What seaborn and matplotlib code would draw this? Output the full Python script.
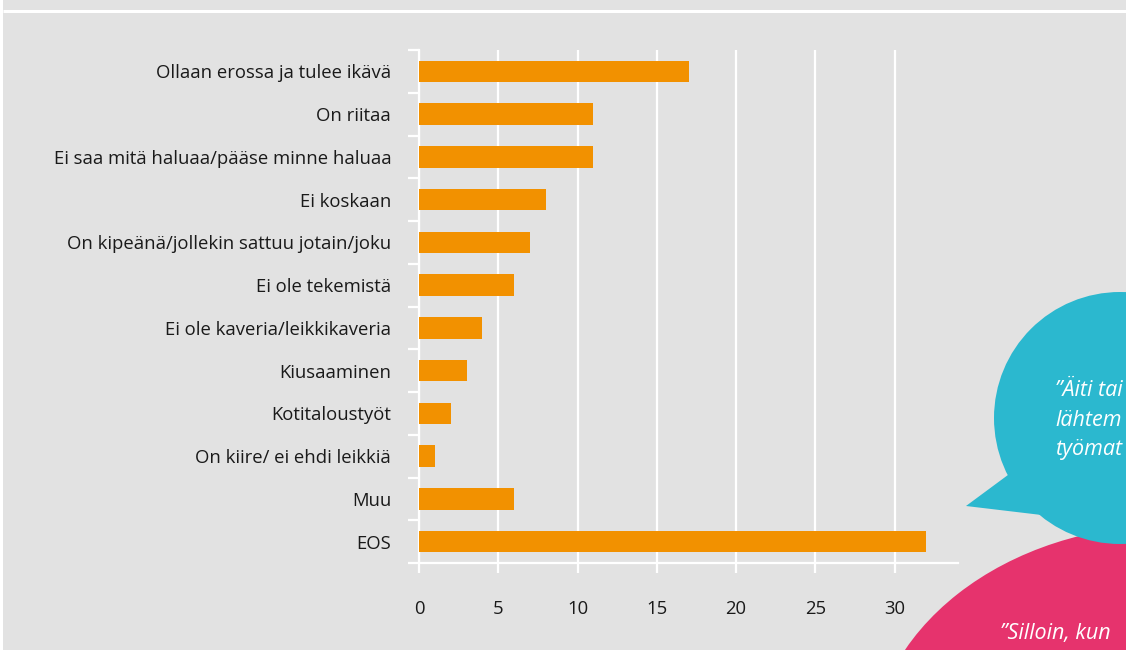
import matplotlib
matplotlib.use("Agg")
import matplotlib.pyplot as plt
import seaborn as sns
import pandas as pd
from matplotlib.patches import Ellipse, Polygon, Circle

# Data
categories = [
    "Ollaan erossa ja tulee ikävä",
    "On riitaa",
    "Ei saa mitä haluaa/pääse minne haluaa",
    "Ei koskaan",
    "On kipeänä/jollekin sattuu jotain/joku",
    "Ei ole tekemistä",
    "Ei ole kaveria/leikkikaveria",
    "Kiusaaminen",
    "Kotitaloustyöt",
    "On kiire/ ei ehdi leikkiä",
    "Muu",
    "EOS",
]
values = [17, 11, 11, 8, 7, 6, 4, 3, 2, 1, 6, 32]
x_ticks = [0, 5, 10, 15, 20, 25, 30]
# quote bubbles are cut by the picture edge in the reference; only the visible part is kept
quote_teal = ["”Äiti tai", "lähtem", "työmat"]
quote_pink = "”Silloin, kun"

BG = "#e2e2e2"
BAR = "#f29100"
TEAL = "#2bb8cf"
PINK = "#e6336d"
TEXT = "#1a1a1a"

sns.set_theme(style="white")
plt.rcParams["font.family"] = ["Open Sans", "DejaVu Sans"]

df = pd.DataFrame({"category": categories, "value": values})

W, H = 1126, 650
fig = plt.figure(figsize=(W / 100, H / 100), dpi=100)
fig.patch.set_facecolor("white")

# gray panel with the thin white rule near the top
bg_ax = fig.add_axes([0, 0, 1, 1], zorder=0)
bg_ax.set_xlim(0, W)
bg_ax.set_ylim(H, 0)
bg_ax.axis("off")
bg_ax.add_patch(plt.Rectangle((3, 0), W, H, color=BG, lw=0))
bg_ax.plot([3, W], [11, 11], color="white", lw=2.2, solid_capstyle="butt")

ax = fig.add_axes([419 / W, (H - 563) / H, (958 - 419) / W, (563 - 50) / H], zorder=1)
ax.set_facecolor("none")
sns.barplot(data=df, x="value", y="category", orient="h", color=BAR,
            width=0.5, saturation=1, linewidth=0, edgecolor="none", ax=ax, zorder=3)

ax.set_xlim(0, 34)
ax.set_ylim(len(categories) - 0.5, -0.5)
ax.set_xticks(x_ticks)
ax.set_xticklabels([str(t) for t in x_ticks])
ax.set_xlabel("")
ax.set_ylabel("")

ax.grid(axis="x", color="white", lw=1.6, zorder=1)
ax.grid(axis="y", visible=False)
for side in ["top", "right"]:
    ax.spines[side].set_visible(False)
for side in ["left", "bottom"]:
    ax.spines[side].set_color("white")
    ax.spines[side].set_linewidth(1.6)
    ax.spines[side].set_zorder(2)

# category boundaries get the short white ticks, labels sit on the centres
ax.set_yticks([i - 0.5 for i in range(len(categories) + 1)], minor=True)
ax.tick_params(axis="y", which="major", left=True, length=0, pad=20,
               labelsize=13.3, labelcolor=TEXT)
ax.tick_params(axis="y", which="minor", left=True, length=8, width=1.6,
               color="white", direction="out")
ax.tick_params(axis="x", which="major", bottom=True, length=7, width=1.6, color="white",
               direction="out", pad=20, labelsize=13.3, labelcolor=TEXT)

# speech bubbles on the right
pink = Ellipse((1170, 760), 600, 470, color=PINK, lw=0)
bg_ax.add_patch(pink)
bg_ax.add_patch(Polygon([(966, 506), (1012, 472), (1050, 516)], closed=True, color=TEAL, lw=0))
bg_ax.add_patch(Circle((1120, 418), 126, color=TEAL, lw=0))

for i, line in enumerate(quote_teal):
    bg_ax.text(1055, 390 + i * 30, line, color="white", fontsize=15.5, style="italic",
               ha="left", va="center")
bg_ax.text(1000, 634, quote_pink, color="white", fontsize=15.5, style="italic",
           ha="left", va="center")

fig.savefig("out.png", dpi=100, facecolor=fig.get_facecolor())
